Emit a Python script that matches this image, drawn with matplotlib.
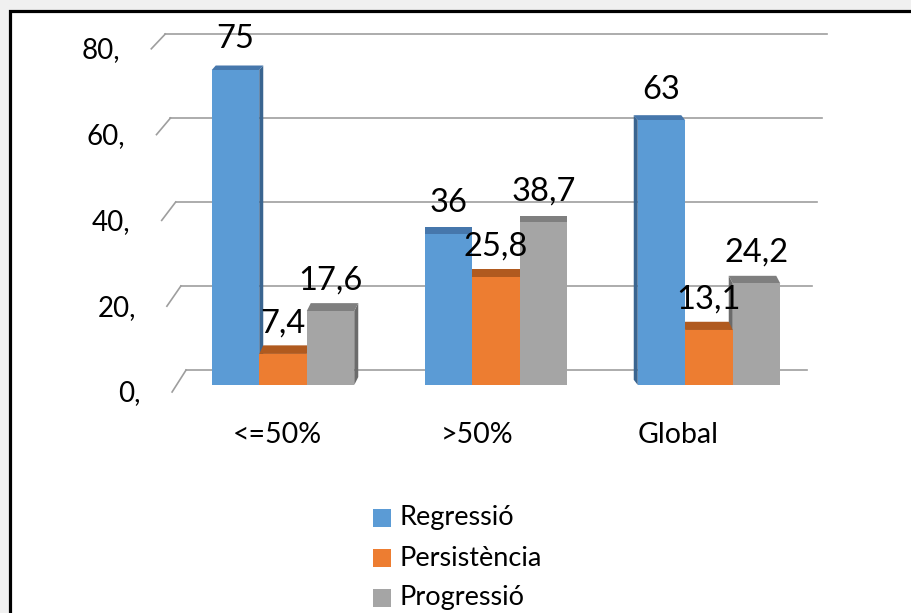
import numpy as np
import matplotlib.pyplot as plt
from matplotlib.patches import Polygon, Rectangle

plt.rcParams['font.family'] = ['Lato', 'DejaVu Sans']

categories = ['<=50%', '>50%', 'Global']
series = ['Regressió', 'Persistència', 'Progressió']
regressio = [75, 36, 63]
persistencia = [7.4, 25.8, 13.1]
progressio = [17.6, 38.7, 24.2]
value_text = [['75', '36', '63'], ['7,4', '25,8', '13,1'], ['17,6', '38,7', '24,2']]
yticks = [0, 20, 40, 60, 80]
ytick_labels = ['0,', '20,', '40,', '60,', '80,']

front = ['#5B9BD5', '#ED7D31', '#A5A5A5']
top = ['#4677AC', '#B05A1F', '#7F7F7F']
side = ['#3A6590', '#974D1A', '#6B6B6B']

W, H = 911, 613
fig = plt.figure(figsize=(W / 100, H / 100), dpi=100, facecolor='#f0f0f0')

# white chart area with the black frame (runs off the right and bottom)
fig.add_artist(Rectangle((9.5 / W, -0.05), 1.1, (H - 11) / H + 0.05,
                         transform=fig.transFigure, facecolor='white',
                         edgecolor='black', linewidth=2.3, zorder=0))

ax_l, ax_b, ax_w, ax_h = 176.5, 228, 639, 336
ax = fig.add_axes([ax_l / W, ax_b / H, ax_w / W, ax_h / H])
ax.set_xlim(-0.5, 2.5)
ax.set_ylim(0, 80)
ax.axis('off')
ax.patch.set_alpha(0)

px = 3 / ax_w      # data units per pixel, x
py = 80 / ax_h     # data units per pixel, y

# back wall gridlines with the short floor/side wall stubs
grid_c = '#9E9E9E'
for v, lab in zip(yticks, ytick_labels):
    left = -0.455 - 0.00122 * v
    right = 2.46 + 0.00117 * v
    yb = v + 15 * py
    ax.plot([left, right], [yb, yb], color=grid_c, lw=1.2, clip_on=False, zorder=1)
    fx = left - 14 * px
    fy = v - (7 - 0.09 * v) * py
    ax.plot([left, fx], [yb, fy], color=grid_c, lw=1.2, clip_on=False, zorder=1)
    ax.text(fx - 31 * px, fy - 9.5 * py, lab, ha='right', va='baseline',
            fontsize=20, color='black')

width = 0.223
data = [regressio, persistencia, progressio]
shift = [4, 0, -4]   # horizontal shift of the back edges, px

for g in range(len(categories)):
    dx = shift[g] * px
    order = range(3) if shift[g] >= 0 else range(2, -1, -1)
    for i in order:
        v = data[i][g]
        xc = g + (i - 1) * width
        x0, x1 = xc - width / 2, xc + width / 2
        dy = (9 - 0.06 * v) * py
        z = 2 + (i if shift[g] >= 0 else 2 - i)
        if dx > 0:
            ax.add_patch(Polygon([(x1, 0), (x1, v), (x1 + dx, v + dy), (x1 + dx, dy)],
                                 closed=True, facecolor=side[i], edgecolor='none', zorder=z))
        elif dx < 0:
            ax.add_patch(Polygon([(x0, 0), (x0, v), (x0 + dx, v + dy), (x0 + dx, dy)],
                                 closed=True, facecolor=side[i], edgecolor='none', zorder=z))
        ax.add_patch(Polygon([(x0, v), (x1, v), (x1 + dx, v + dy), (x0 + dx, v + dy)],
                             closed=True, facecolor=top[i], edgecolor='none', zorder=z))
        ax.bar(xc, v, width=width, color=front[i], edgecolor='none', zorder=z)
        ax.annotate(value_text[i][g], (xc, v), xytext=(0, 15.5), textcoords='offset points',
                    ha='center', va='baseline', fontsize=23.5, zorder=10)

# category labels sit on the floor's front edge
x_vp = -0.479
for g, cat in enumerate(categories):
    ax.text(x_vp + 0.941 * (g - x_vp), -58 * py, cat, ha='center', va='baseline',
            fontsize=20.5, clip_on=False)

# legend
for i, name in enumerate(series):
    yc = 518 + 40 * i
    fig.add_artist(Rectangle((373 / W, (H - yc - 9) / H), 18 / W, 18 / H,
                             transform=fig.transFigure, facecolor=front[i],
                             edgecolor='none'))
    fig.text(400 / W, (H - yc) / H, name, ha='left', va='center', fontsize=19.5)

fig.savefig('out.png', dpi=100, facecolor=fig.get_facecolor())
